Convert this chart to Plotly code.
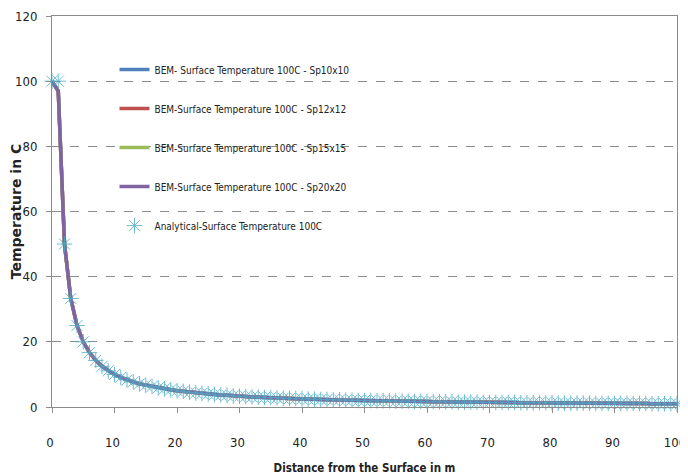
import plotly.graph_objects as go

# Distance from the surface (m)
distance = list(range(0, 101))

# Analytical surface temperature (C)
analytical_temp = [
    100, 100, 50, 33.3, 25, 20, 16.7, 14.3, 12.5, 11.1, 10,
    9.1, 8.3, 7.7, 7.1, 6.7, 6.3, 5.9, 5.6, 5.3, 5,
    4.8, 4.5, 4.3, 4.2, 4, 3.8, 3.7, 3.6, 3.4, 3.3,
    3.2, 3.1, 3, 2.9, 2.9, 2.8, 2.7, 2.6, 2.6, 2.5,
    2.4, 2.4, 2.3, 2.3, 2.2, 2.2, 2.1, 2.1, 2, 2,
    2, 1.9, 1.9, 1.9, 1.8, 1.8, 1.8, 1.7, 1.7, 1.7,
    1.6, 1.6, 1.6, 1.6, 1.5, 1.5, 1.5, 1.5, 1.4, 1.4,
    1.4, 1.4, 1.4, 1.4, 1.3, 1.3, 1.3, 1.3, 1.3, 1.3,
    1.2, 1.2, 1.2, 1.2, 1.2, 1.2, 1.1, 1.1, 1.1, 1.1,
    1.1, 1.1, 1.1, 1.1, 1.1, 1, 1, 1, 1, 1,
]

# BEM results (visually indistinguishable from one another)
bem_sp10 = [100, 97] + analytical_temp[2:]
bem_sp12 = [100, 97] + analytical_temp[2:]
bem_sp15 = [100, 97] + analytical_temp[2:]
bem_sp20 = [100, 97] + analytical_temp[2:]

series_names = [
    "BEM- Surface Temperature 100C - Sp10x10",
    "BEM-Surface Temperature 100C - Sp12x12",
    "BEM-Surface Temperature 100C - Sp15x15",
    "BEM-Surface Temperature 100C - Sp20x20",
]
analytical_name = "Analytical-Surface Temperature 100C"
series_values = [bem_sp10, bem_sp12, bem_sp15, bem_sp20]
series_colors = ["#4F81BD", "#C0504D", "#9BBB59", "#8064A2"]

x_ticks = list(range(0, 101, 10))
y_ticks = list(range(0, 121, 20))

FONT = "DejaVu Sans Condensed, Liberation Sans, sans-serif"

fig = go.Figure()
for i, (name, vals, col) in enumerate(zip(series_names, series_values, series_colors)):
    fig.add_trace(go.Scatter(
        x=distance, y=vals, mode="lines", name=name,
        line=dict(color=col, width=3.5), legendgroup=f"g{i}",
    ))
fig.add_trace(go.Scatter(
    x=distance, y=analytical_temp, mode="markers", name=analytical_name,
    marker=dict(symbol="asterisk-open", size=13, color="#4BACC6",
                line=dict(color="#4BACC6", width=1)),
    legendgroup="g4", opacity=0.8, cliponaxis=False,
))

# the page body adds an 8px offset, so the figure is sized 8px smaller
fig.update_layout(
    width=680, height=467,
    margin=dict(l=44, r=11, t=8, b=68),
    paper_bgcolor="white", plot_bgcolor="white",
    font=dict(family=FONT, size=13, color="#222"),
    legend=dict(
        x=0.1, y=0.9, xanchor="left", yanchor="top",
        bgcolor="rgba(0,0,0,0)", font=dict(family=FONT, size=10, color="#222"),
        tracegroupgap=20, traceorder="grouped",
    ),
    xaxis=dict(
        range=[0, 100], tickvals=x_ticks, ticktext=[str(v) for v in x_ticks],
        showline=True, linecolor="#8c8c8c", linewidth=1, mirror=True,
        ticks="outside", ticklen=5, tickcolor="#8c8c8c",
        showgrid=False, zeroline=False, ticklabelstandoff=18, automargin=False,
        ticklabeloverflow="allow", ticklabelshift=-2,
        tickfont=dict(family=FONT, size=13, color="#222"),
        title=dict(text="<b>Distance from the Surface in m</b>",
                   font=dict(family=FONT, size=11.5, color="#222"), standoff=23),
    ),
    yaxis=dict(
        range=[0, 120], tickvals=y_ticks, ticktext=[str(v) for v in y_ticks],
        showline=True, linecolor="#8c8c8c", linewidth=1, mirror=True,
        ticks="outside", ticklen=5, tickcolor="#8c8c8c",
        showgrid=True, gridcolor="#8c8c8c", griddash="dash", gridwidth=1,
        zeroline=False, ticklabelstandoff=6, automargin=False,
        tickfont=dict(family=FONT, size=13, color="#222"),
        title=dict(text="<b>Temperature in C</b>",
                   font=dict(family="DejaVu Sans, sans-serif", size=14, color="#222"),
                   standoff=1),
    ),
)

fig.write_html("out.html")
